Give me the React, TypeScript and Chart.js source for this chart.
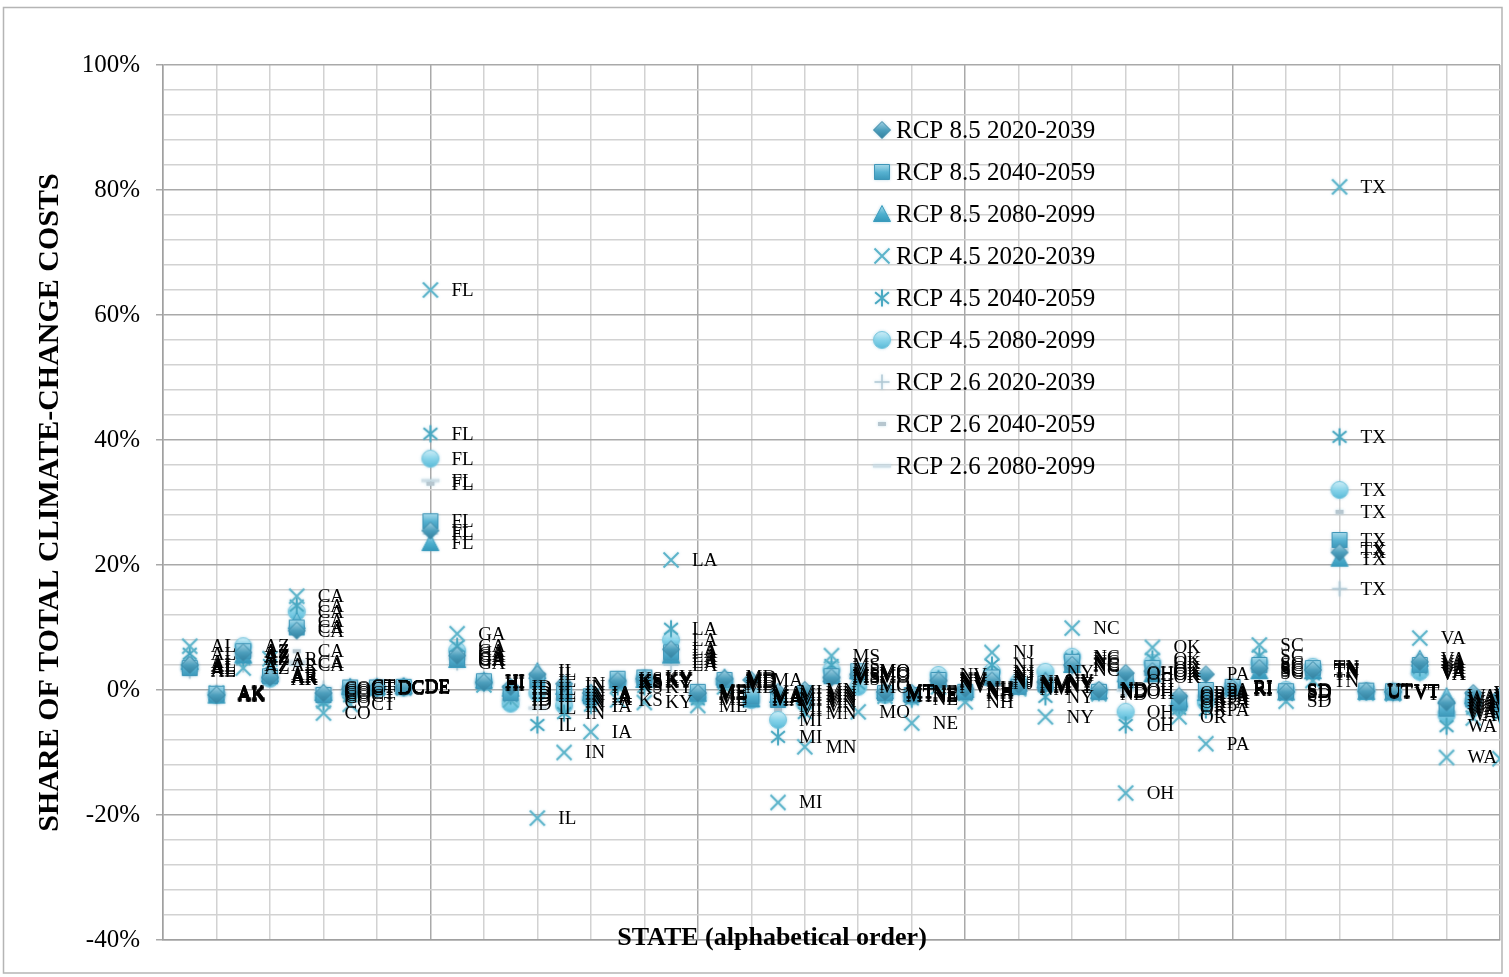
import { useEffect, useRef } from "react";
import { Chart, registerables } from "chart.js";

Chart.register(...registerables);

// states in the order used on the x axis (1..51)
const STATES = [
  "AL", "AK", "AZ", "AR", "CA", "CO", "CT", "DC", "DE", "FL",
  "GA", "HI", "ID", "IL", "IN", "IA", "KS", "KY", "LA", "ME",
  "MD", "MA", "MI", "MN", "MS", "MO", "MT", "NE", "NV", "NH",
  "NJ", "NM", "NY", "NC", "ND", "OH", "OK", "OR", "PA", "RI",
  "SC", "SD", "TN", "TX", "UT", "VT", "VA", "WA", "WV", "WI", "WY",
];

// share of total climate-change costs, percent
const RCP85_2020 = [
  4.0, -0.8, 6.0, 2.0, 9.5, -0.5, 0.2, 0.3, 0.4, 25.5,
  5.5, 1.2, 0.5, 2.5, 1.0, -0.5, 1.5, 1.8, 6.5, -0.5,
  1.8, 1.6, -0.3, 0.0, 2.0, 2.5, -0.3, -0.5, 1.5, 0.2,
  1.5, 0.8, 1.3, 4.0, 0.0, 2.7, 3.0, -1.0, 2.5, 0.3,
  3.5, -0.3, 3.2, 22.0, -0.2, -0.3, 4.5, -2.0, -0.5, -1.0, 0.5,
];
const RCP85_2040 = [
  3.5, -0.6, 6.2, 2.2, 10.0, -0.8, 0.4, 0.4, 0.5, 27.0,
  5.0, 1.4, -0.5, 1.5, -0.5, -1.0, 1.8, 2.0, 6.0, -0.3,
  1.6, -1.0, -1.6, -0.5, 2.2, 3.0, -0.5, -0.8, 1.6, -0.3,
  2.0, 0.5, 1.0, 4.5, -0.3, 1.5, 3.5, -2.0, 0.0, 0.5,
  4.0, -0.2, 3.5, 24.0, -0.1, -0.2, 4.0, -3.0, -1.5, -2.0, 0.8,
];
const RCP85_2080 = [
  4.5, -0.9, 5.5, 2.5, 11.0, -0.5, 0.5, 0.5, 0.6, 23.5,
  4.8, 1.5, 0.2, 3.0, 0.5, -0.5, 1.5, 1.6, 5.5, -0.6,
  2.0, -1.5, -0.8, -1.0, 2.5, 3.0, -0.2, -0.6, 1.8, 0.0,
  2.0, 1.0, 1.5, 4.0, -0.2, 2.5, 2.5, -1.5, -0.5, 0.4,
  3.0, -0.4, 3.0, 21.0, -0.3, -0.4, 5.0, -1.0, -1.0, -1.5, 0.6,
];
const RCP45_2020 = [
  7.0, -0.5, 3.5, 5.0, 15.0, -3.7, -2.3, 0.2, 0.3, 64.0,
  9.0, 0.8, -1.6, -20.5, -10.0, -6.7, -1.6, -2.0, 20.8, -2.5,
  0.5, -1.5, -18.0, -9.1, 5.5, -3.5, -1.0, -5.3, 0.5, -1.9,
  6.0, 0.2, -4.3, 9.9, -0.6, -16.5, 6.8, -4.3, -8.6, 0.0,
  7.2, -1.8, 1.5, 80.5, -0.5, -0.6, 8.3, -10.8, -4.5, -11.0, 0.5,
];
const RCP45_2040 = [
  5.8, -0.7, 5.0, 4.0, 13.5, -2.0, -1.0, 0.4, 0.5, 41.0,
  7.0, 1.2, -1.0, -5.6, -3.7, -2.5, 0.5, 0.5, 9.8, -1.5,
  1.0, -1.2, -7.5, -3.7, 4.0, 1.0, -0.8, -1.5, 1.0, -0.8,
  4.0, 0.5, -1.1, 5.0, -0.4, -5.6, 5.0, -3.0, -3.2, 0.2,
  5.5, -0.8, 2.5, 40.5, -0.3, -0.4, 3.5, -5.8, -3.0, -4.0, 0.6,
];
const RCP45_2080 = [
  3.8, -0.8, 7.0, 1.8, 12.5, -1.2, -0.5, 0.3, 0.4, 37.0,
  6.3, 1.3, -2.2, -0.5, -2.5, -1.5, 1.2, 1.8, 8.0, -1.2,
  1.5, -1.6, -4.8, -2.0, 3.2, 0.5, -0.8, -1.0, 2.4, -0.5,
  2.9, 1.3, 2.9, 5.3, -0.2, -3.5, 4.3, -2.5, -2.0, 0.3,
  4.3, 0.0, 3.7, 32.0, -0.2, -0.3, 2.9, -4.0, -2.0, -3.0, 0.7,
];
const RCP26_2020 = [
  3.0, -0.4, 4.0, 2.0, 4.0, 0.3, 0.6, 0.5, 0.6, 25.0,
  4.3, 1.0, -0.5, 0.2, -1.0, -1.0, 1.0, 1.2, 4.0, -0.2,
  1.2, -0.5, -1.5, -1.0, 1.8, 2.0, -0.2, -0.4, 1.0, 0.3,
  1.1, 0.5, 0.5, 3.2, 0.1, 0.0, 2.0, -0.5, -0.5, 0.4,
  2.7, -0.2, 2.8, 16.2, 0.0, -0.1, 2.5, -1.5, -0.5, -1.0, 0.5,
];
const RCP26_2040 = [
  3.5, -0.6, 5.2, 2.2, 6.2, -0.2, 0.2, 0.4, 0.5, 33.0,
  5.8, 1.2, -1.0, -1.0, -2.0, -1.5, 1.4, 1.5, 5.0, -0.5,
  1.5, -1.2, -3.2, -1.5, 2.2, 2.5, -0.4, -0.8, 1.3, -0.2,
  2.5, 0.7, 0.8, 4.2, -0.2, -0.5, 3.0, -1.5, -1.5, 0.3,
  3.5, -0.3, 3.2, 28.5, -0.2, -0.3, 3.0, -2.5, -1.0, -2.0, 0.6,
];
const RCP26_2080 = [
  3.2, -0.5, 5.5, 1.8, 4.5, 0.2, 0.5, 0.4, 0.5, 33.5,
  5.0, 1.1, -1.5, -2.9, -1.5, -1.2, 1.2, 1.4, 4.5, -0.4,
  1.3, -1.0, -2.5, -2.5, 2.0, 2.2, -0.3, -0.9, 1.5, 0.0,
  1.8, 0.6, 1.0, 3.8, -0.1, 0.0, 2.5, -1.2, -1.0, 0.3,
  3.2, -0.2, 3.0, 22.5, -0.1, -0.2, 2.6, -3.5, -1.5, -2.5, 0.6,
];

const SERIES = [
  { label: "RCP 8.5 2020-2039", values: RCP85_2020, marker: "diamond" },
  { label: "RCP 8.5 2040-2059", values: RCP85_2040, marker: "square" },
  { label: "RCP 8.5 2080-2099", values: RCP85_2080, marker: "triangle" },
  { label: "RCP 4.5 2020-2039", values: RCP45_2020, marker: "x" },
  { label: "RCP 4.5 2040-2059", values: RCP45_2040, marker: "asterisk" },
  { label: "RCP 4.5 2080-2099", values: RCP45_2080, marker: "circle" },
  { label: "RCP 2.6 2020-2039", values: RCP26_2020, marker: "plus" },
  { label: "RCP 2.6 2040-2059", values: RCP26_2040, marker: "dash" },
  { label: "RCP 2.6 2080-2099", values: RCP26_2080, marker: "longdash" },
];

const SERIF = '"Liberation Serif", "DejaVu Serif", serif';

// glossy excel-ish markers drawn on small canvases
function makeMarker(kind: string): HTMLCanvasElement {
  const size = 24;
  const c = document.createElement("canvas");
  c.width = size;
  c.height = size;
  const g = c.getContext("2d")!;
  const m = size / 2;
  const grad = (a: string, b: string, d: string) => {
    const gr = g.createLinearGradient(0, m - 9, 0, m + 9);
    gr.addColorStop(0, a);
    gr.addColorStop(0.5, b);
    gr.addColorStop(1, d);
    return gr;
  };
  g.lineJoin = "round";
  g.shadowColor = "rgba(90,170,200,0.35)";
  g.shadowBlur = 3;
  if (kind === "diamond") {
    g.beginPath();
    g.moveTo(m, m - 8.5);
    g.lineTo(m + 8.5, m);
    g.lineTo(m, m + 8.5);
    g.lineTo(m - 8.5, m);
    g.closePath();
    g.fillStyle = grad("#a9d7e7", "#4d9fbd", "#2f7e9c");
    g.fill();
    g.strokeStyle = "#3a87a5";
    g.lineWidth = 1;
    g.stroke();
  } else if (kind === "square") {
    g.fillStyle = grad("#bde5f2", "#58b3d2", "#3592b5");
    g.fillRect(m - 7.5, m - 7.5, 15, 15);
    g.strokeStyle = "#3f96b7";
    g.lineWidth = 1;
    g.strokeRect(m - 7.5, m - 7.5, 15, 15);
  } else if (kind === "triangle") {
    g.beginPath();
    g.moveTo(m, m - 8.5);
    g.lineTo(m + 8.5, m + 7.5);
    g.lineTo(m - 8.5, m + 7.5);
    g.closePath();
    g.fillStyle = grad("#addfee", "#4fb0cf", "#2e93b6");
    g.fill();
    g.strokeStyle = "#3a9cbd";
    g.lineWidth = 1;
    g.stroke();
  } else if (kind === "x") {
    g.strokeStyle = "#5cb4ca";
    g.lineWidth = 2;
    g.beginPath();
    g.moveTo(m - 7.5, m - 7.5);
    g.lineTo(m + 7.5, m + 7.5);
    g.moveTo(m + 7.5, m - 7.5);
    g.lineTo(m - 7.5, m + 7.5);
    g.stroke();
  } else if (kind === "asterisk") {
    g.strokeStyle = "#49a8c1";
    g.lineWidth = 2;
    g.beginPath();
    g.moveTo(m, m - 8.5);
    g.lineTo(m, m + 8.5);
    for (const deg of [40, 140]) {
      const r = (deg * Math.PI) / 180;
      g.moveTo(m - Math.cos(r) * 9, m - Math.sin(r) * 9);
      g.lineTo(m + Math.cos(r) * 9, m + Math.sin(r) * 9);
    }
    g.stroke();
  } else if (kind === "circle") {
    g.beginPath();
    g.arc(m, m, 8.5, 0, Math.PI * 2);
    g.fillStyle = grad("#d8f2fa", "#88d4ea", "#58bad8");
    g.fill();
    g.strokeStyle = "#7bc8df";
    g.lineWidth = 1;
    g.stroke();
  } else if (kind === "plus") {
    g.strokeStyle = "#b0c8d3";
    g.lineWidth = 1.5;
    g.beginPath();
    g.moveTo(m - 7.5, m);
    g.lineTo(m + 7.5, m);
    g.moveTo(m, m - 7.5);
    g.lineTo(m, m + 7.5);
    g.stroke();
  } else if (kind === "dash") {
    g.fillStyle = "#b6c6cf";
    g.fillRect(m - 4, m - 2, 8, 4);
  } else {
    g.fillStyle = "#cfdee6";
    g.fillRect(m - 9, m - 1.5, 18, 3);
  }
  return c;
}

export default function App() {
  const canvasRef = useRef<HTMLCanvasElement>(null);

  useEffect(() => {
    if (!canvasRef.current) return;
    const markers = SERIES.map(s => makeMarker(s.marker));

    const framePlugin = {
      id: "frame",
      beforeDraw(chart: Chart) {
        const { ctx, width, height } = chart;
        ctx.save();
        ctx.fillStyle = "#fff";
        ctx.fillRect(0, 0, width, height);
        ctx.strokeStyle = "#b5b5b5";
        ctx.lineWidth = 1.5;
        ctx.strokeRect(3.5, 7.5, 1498.5, 965.5);
        ctx.restore();
      },
    };

    const stateLabels = {
      id: "stateLabels",
      afterDatasetsDraw(chart: Chart) {
        const { ctx, chartArea } = chart;
        ctx.save();
        ctx.beginPath();
        ctx.rect(0, 0, chartArea.right - 1, chart.height);
        ctx.clip();
        ctx.font = `19px ${SERIF}`;
        ctx.fillStyle = "#000";
        ctx.textAlign = "left";
        ctx.textBaseline = "middle";
        chart.data.datasets.forEach((_, di) => {
          const meta = chart.getDatasetMeta(di);
          meta.data.forEach((pt: any, i: number) => {
            if (pt.x > chartArea.right) return;
            ctx.fillText(STATES[i], pt.x + 21, pt.y + 1);
          });
        });
        ctx.restore();
      },
    };

    const overlay = {
      id: "overlay",
      afterDraw(chart: Chart) {
        const { ctx, chartArea } = chart;
        ctx.save();
        // legend inside the plot
        ctx.font = `25px ${SERIF}`;
        ctx.fillStyle = "#000";
        ctx.textAlign = "left";
        ctx.textBaseline = "middle";
        SERIES.forEach((s, i) => {
          const y = chartArea.top + 65 + i * 42;
          const mk = markers[i];
          ctx.drawImage(mk, chartArea.left + 719 - mk.width / 2, y - mk.height / 2);
          ctx.fillText(s.label, chartArea.left + 733, y + 1);
        });
        // x axis title sits on the bottom axis line
        ctx.font = `bold 26px ${SERIF}`;
        ctx.textAlign = "center";
        ctx.fillText("STATE (alphabetical order)", chartArea.left + 609, chartArea.bottom - 2);
        ctx.restore();
      },
    };

    const chart = new Chart(canvasRef.current, {
      type: "scatter",
      data: {
        datasets: SERIES.map((s, i) => ({
          label: s.label,
          data: s.values.map((v, k) => ({ x: k + 1, y: v })),
          pointStyle: markers[i],
          pointRadius: 8,
          clip: 0,
        })),
      },
      options: {
        responsive: false,
        animation: false,
        layout: { padding: { top: 65, right: 6, bottom: 37, left: 0 } },
        plugins: {
          legend: { display: false },
          tooltip: { enabled: false },
        },
        scales: {
          x: {
            type: "linear",
            min: 0,
            max: 50,
            afterFit: (scale: any) => {
              scale.height = 0;
            },
            ticks: { stepSize: 2, display: false },
            grid: {
              drawTicks: false,
              lineWidth: 1.5,
              color: (c: any) => (c.tick && c.tick.value % 10 === 0 ? "#a9a9a9" : "#d2d2d2"),
            },
            border: { color: "#a0a0a0", width: 1.5 },
          },
          y: {
            min: -40,
            max: 100,
            afterFit: (scale: any) => {
              scale.width = 163;
            },
            ticks: {
              stepSize: 4,
              autoSkip: false,
              padding: 16,
              color: "#000",
              font: { family: SERIF, size: 25 },
              callback: (v: any) => (Number(v) % 20 === 0 ? `${v}%` : ""),
            },
            grid: {
              tickLength: 7,
              lineWidth: 1.5,
              color: (c: any) => (c.tick && c.tick.value % 20 === 0 ? "#a9a9a9" : "#d2d2d2"),
              tickColor: (c: any) => (c.tick && c.tick.value % 20 === 0 ? "#a9a9a9" : "rgba(0,0,0,0)"),
            },
            border: { color: "#a0a0a0", width: 1.5 },
            title: {
              display: true,
              text: "SHARE OF TOTAL CLIMATE-CHANGE COSTS",
              color: "#000",
              font: { family: SERIF, size: 30, weight: "bold" },
              padding: { top: 32, bottom: 0 },
            },
          },
        },
      },
      plugins: [framePlugin, stateLabels, overlay],
    });

    return () => {
      chart.destroy();
    };
  }, []);

  return (
    <div style={{ position: "absolute", left: 0, top: 0, width: 1509, height: 977 }}>
      <canvas ref={canvasRef} width={1509} height={977} />
    </div>
  );
}
